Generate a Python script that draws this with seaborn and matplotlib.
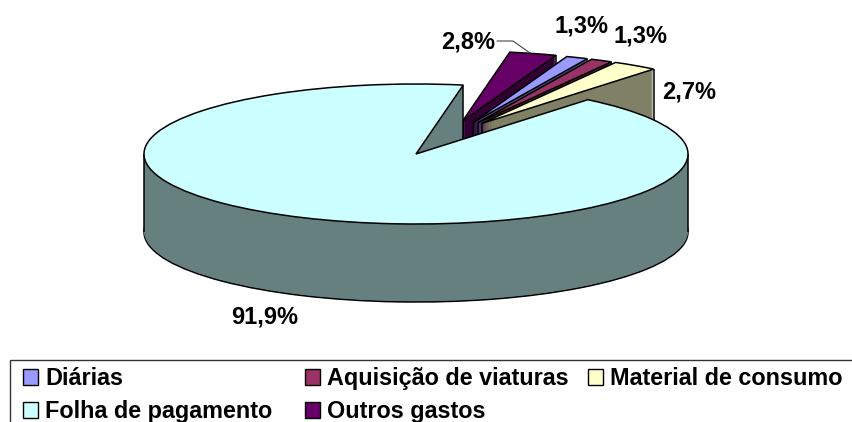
import numpy as np
import matplotlib
matplotlib.use("Agg")
import matplotlib.pyplot as plt
from matplotlib.patches import Patch, Rectangle
import seaborn as sns

# clockwise from the back of the pie
categories=["Outros gastos","Diárias","Aquisição de viaturas","Material de consumo","Folha de pagamento"]
values=[2.8,1.3,1.3,2.7,91.9]
labels=["2,8%","1,3%","1,3%","2,7%","91,9%"]
colors=["#660066","#9999FF","#993366","#FFFFCC","#CCFFFF"]
legend_cols=[[1,4],[2,0],[3]]

W,H=853,422
cx,cy=416,154     # pie centre, px
rx,ry=272,70      # ellipse radii, px
depth=78
start=80
pull=[0.5,0.5,0.5,0.5,0]
pull_dir=[70,65,63,61,0]
label_pos=[(468,42),(581,26),(641,36),(689,92),(265,317)]
legend_x=[23,305,588]

sns.set_theme(style="white")
plt.rcParams["font.family"]=["Liberation Sans","DejaVu Sans"]

fig=plt.figure(figsize=(W/100,H/100),dpi=100)
ax=fig.add_axes([0,0,1,1])

pal=sns.color_palette(colors)
walls=[tuple(c*0.5 for c in col) for col in pal]
shift=[(p*np.cos(np.radians(d)),p*np.sin(np.radians(d))) for p,d in zip(pull,pull_dir)]

# extruded look: one pie per pixel of depth, bottom to top
for k in range(depth,-1,-1):
    dy=-k/ry
    top=k==0
    edge=top or k==depth
    wedges,_=ax.pie(values,startangle=start,counterclock=False,radius=1,center=(0,dy),
                    colors=pal if top else walls,
                    wedgeprops={"edgecolor":"black" if edge else "none","linewidth":1.1 if edge else 0})
    for i,w in enumerate(wedges):
        w.set_center((shift[i][0],dy+shift[i][1]))
        w.set_zorder(10+i*1000+(depth-k))

def wall_edge(x,y,i):
    # sits just under the top face of slice i
    ax.plot([x,x],[y,y-depth/ry],color="black",lw=1.1,solid_capstyle="butt",zorder=10+i*1000+depth-1)

# vertical edges of the walls
ang=start-np.cumsum([0]+values)*3.6
for i in range(4):
    wall_edge(shift[i][0],shift[i][1],i)
    wall_edge(shift[i][0]+np.cos(np.radians(ang[i+1])),shift[i][1]+np.sin(np.radians(ang[i+1])),i)
wall_edge(np.cos(np.radians(start)),np.sin(np.radians(start)),4)
wall_edge(-1,0,4)
wall_edge(1,0,4)

ax.set_aspect("auto")
ax.set_xlim(-cx/rx,(W-cx)/rx)
ax.set_ylim(-(H-cy)/ry,cy/ry)
ax.axis("off")

for t,(px,py) in zip(labels,label_pos):
    fig.text(px/W,1-py/H,t,ha="center",va="center",fontsize=17,fontweight="bold",color="black")

# leader line for 2,8%
fig.add_artist(plt.Line2D([497/W,513/W,530/W],[1-41/H,1-41/H,1-53/H],color="#444444",lw=0.8))

# legend box runs off the right and bottom of the picture
fig.add_artist(Rectangle((10/W,-0.05),(W+20)/W,1-360/H+0.05,transform=fig.transFigure,
                         fill=False,edgecolor="#333333",lw=1))

# one legend per column, the columns are evenly spaced in the original
for lx,col in zip(legend_x,legend_cols):
    handles=[Patch(facecolor=pal[i],edgecolor="black",linewidth=1,label=categories[i]) for i in col]
    leg=fig.legend(handles=handles,loc="upper left",bbox_to_anchor=(lx/W,1-367/H),
                   bbox_transform=fig.transFigure,frameon=False,borderaxespad=0,borderpad=0,
                   handlelength=0.64,handleheight=0.64,handletextpad=0.3,labelspacing=0.44,
                   labelcolor="black",prop={"size":16.8,"weight":"bold","family":"Liberation Sans"})

fig.savefig("out.png",dpi=100)
